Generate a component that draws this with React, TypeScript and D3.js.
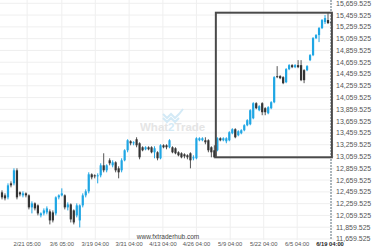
import React from "react";
import * as d3 from "d3";

const opens = [12451,12400,12366,12604,12604,12825,12451,12400,12434,12400,12196,12264,12230,12060,12094,12111,12128,12111,12094,12366,12400,12400,12196,12247,12145,12060,11975,12230,12400,12468,12757,12740,12723,12740,12910,12825,12995,12910,12961,12859,12825,12995,13165,13318,13284,13352,13284,13216,13182,13216,13216,13131,13131,13029,13250,13250,13216,13216,13199,13131,13114,13097,13080,13114,13029,13029,13335,13335,13335,13335,13216,13165,13165,13369,13335,13318,13335,13454,13522,13420,13454,13505,13590,13607,13709,13964,13845,13964,13879,13794,13879,13981,14423,14423,14406,14321,14542,14610,14576,14610,14610,14525,14525,14695,14780,15069,15120,15239,15341,15375,15341];
const closes = [12366,12349,12570,12570,12825,12366,12417,12434,12400,12196,12264,12179,12094,12094,12145,12179,11975,11975,12366,12400,12434,12196,12247,11992,11941,12230,12230,12400,12468,12757,12706,12723,12740,12910,12825,12910,12944,12961,12825,12791,12995,13165,13335,13284,13301,13250,13046,13165,13216,13182,13131,13199,13029,13250,13216,13216,13335,13131,13114,13080,13046,13063,13046,12995,13046,13369,13369,13369,13301,13165,13131,13046,13369,13335,13369,13369,13471,13522,13386,13488,13505,13590,13675,13845,13964,13879,13913,13811,13811,13896,13981,14406,14406,14389,14304,14542,14610,14576,14610,14576,14355,14355,14593,14780,15069,15120,15239,15375,15409,15324,15324];
const highs = [12485,12434,12604,12638,12859,12859,12468,12468,12451,12417,12298,12281,12247,12111,12179,12213,12162,12145,12383,12417,12519,12417,12281,12264,12162,12264,12247,12434,12502,12791,12774,12757,12774,12944,13114,12927,13029,12995,12978,12893,13029,13182,13352,13335,13318,13386,13301,13233,13233,13233,13233,13233,13148,13267,13267,13267,13352,13233,13216,13148,13131,13114,13097,13131,13080,13386,13386,13386,13386,13352,13233,13250,13386,13386,13386,13386,13488,13539,13539,13505,13522,13607,13692,13862,13981,13981,13930,13981,13896,13913,13998,14423,14593,14440,14423,14559,14627,14627,14627,14695,14695,14542,14610,14797,15086,15137,15256,15392,15460,15494,15341];
const lows = [12332,12315,12332,12536,12570,12332,12383,12366,12366,12162,12094,12145,12060,12026,12060,12077,11907,11941,12060,12332,12383,12162,12145,11941,11907,12026,11856,12196,12366,12434,12672,12689,12604,12706,12791,12791,12910,12876,12791,12689,12791,12978,13131,13250,13250,13216,13012,13148,13165,13165,13114,13029,12995,13012,13199,13182,13199,13114,13097,13063,13029,13029,13012,12859,12995,13012,13318,13318,13267,13131,13046,13029,13148,13318,13318,13284,13318,13437,13369,13403,13437,13488,13573,13590,13692,13862,13828,13760,13760,13777,13862,13964,14389,14372,14287,14304,14525,14559,14559,14559,14338,14304,14508,14678,14763,15052,15001,15222,15307,15307,15307];

const xTickIndex = [8.4, 20, 31.2, 42.5, 53.8, 65, 76.3, 87.5, 98.7, 110];
const xTickLabels = ["2/21 05:00","3/6 05:00","3/19 04:00","3/31 04:00","4/13 04:00","4/26 04:00","5/9 04:00","5/22 04:00","6/5 04:00","6/19 04:00"];
const yTickValues = d3.range(0, 21).map((k) => 11659.525 + 200 * k);

const boxTop = 15500;
const boxBottom = 13046;
const boxStart = 71.5;
const boxEnd = 110.3;

const FONT = "'Liberation Sans', Arial, sans-serif";

export default function App() {
  const W = 380, H = 250;
  const x = d3.scaleLinear().domain([0, 110]).range([2, 331]);
  const y = d3.scaleLinear().domain([11659.525, 15659.525]).range([239, 3.3]);
  const fmt = d3.format(",.3f");
  const bw = 2.2;
  const blue = "#1fa6e4";
  const dark = "#333333";
  const plotRight = 334;

  return (
    <div style={{ position: "fixed", left: 0, top: 0 }}>
      <svg width={W} height={H} style={{ display: "block", background: "#fff" }}>
        {yTickValues.map((v, i) => (
          <line key={"hg" + i} x1={0} x2={plotRight} y1={y(v)} y2={y(v)} stroke="#efefef" strokeWidth={1} />
        ))}
        {xTickIndex.slice(0, -1).map((t, i) => (
          <line key={"vg" + i} x1={x(t)} x2={x(t)} y1={0} y2={240} stroke="#efefef" strokeWidth={1} />
        ))}
        {/* watermark */}
        <g opacity={0.9}>
          <path d="M163,114 l4,4 l4,-4 l4,4 l4,-4 l4,-5" fill="none" stroke="#cfe8f6" strokeWidth={2} />
          <path d="M163,118 l4,4 l4,-4 l4,4 l4,-4" fill="none" stroke="#cfe8f6" strokeWidth={2} />
          <text x={140} y={131} fontFamily={FONT} fontSize={11.5} fontWeight="bold" fill="#e3e3e3">
            What<tspan fill="#cfe8f6">2</tspan>Trade
          </text>
        </g>
        {/* candles */}
        {opens.map((o, i) => {
          const c = closes[i];
          const up = c >= o;
          const col = up ? blue : dark;
          const cx = x(i);
          const top = y(Math.max(o, c));
          const bot = y(Math.min(o, c));
          return (
            <g key={"c" + i}>
              <line x1={cx} x2={cx} y1={y(highs[i])} y2={y(lows[i])} stroke={up ? blue : "#555"} strokeWidth={1} />
              <rect x={cx - bw / 2} y={top} width={bw} height={Math.max(1, bot - top)} fill={col} />
            </g>
          );
        })}
        {/* current time dashed line */}
        <line x1={x(110)} x2={x(110)} y1={0} y2={240} stroke="#5a6f7a" strokeWidth={1} strokeDasharray="2,1" />
        {/* box */}
        <rect x={x(boxStart)} y={y(boxTop)} width={x(boxEnd) - x(boxStart)} height={y(boxBottom) - y(boxTop)} fill="none" stroke="#4a4a4a" strokeWidth={2} />
        {/* y labels */}
        {yTickValues.map((v, i) => (
          <text key={"yl" + i} x={336} y={y(v)} dy="0.35em" fontFamily={FONT} fontSize={7} fill="#555">
            {fmt(v)}
          </text>
        ))}
        {/* x labels */}
        {xTickIndex.map((t, i) => (
          <text key={"xl" + i} x={i === xTickIndex.length - 1 ? x(t) - 1 : x(t)} y={245.5} textAnchor="middle" fontFamily={FONT} fontSize={5.8}
            fill={i === xTickIndex.length - 1 ? "#222" : "#555"} fontWeight={i === xTickIndex.length - 1 ? "bold" : "normal"}>
            {xTickLabels[i]}
          </text>
        ))}
        <text x={168} y={239} textAnchor="middle" fontFamily={FONT} fontSize={6.5} fill="#444">www.fxtraderhub.com</text>
      </svg>
    </div>
  );
}
